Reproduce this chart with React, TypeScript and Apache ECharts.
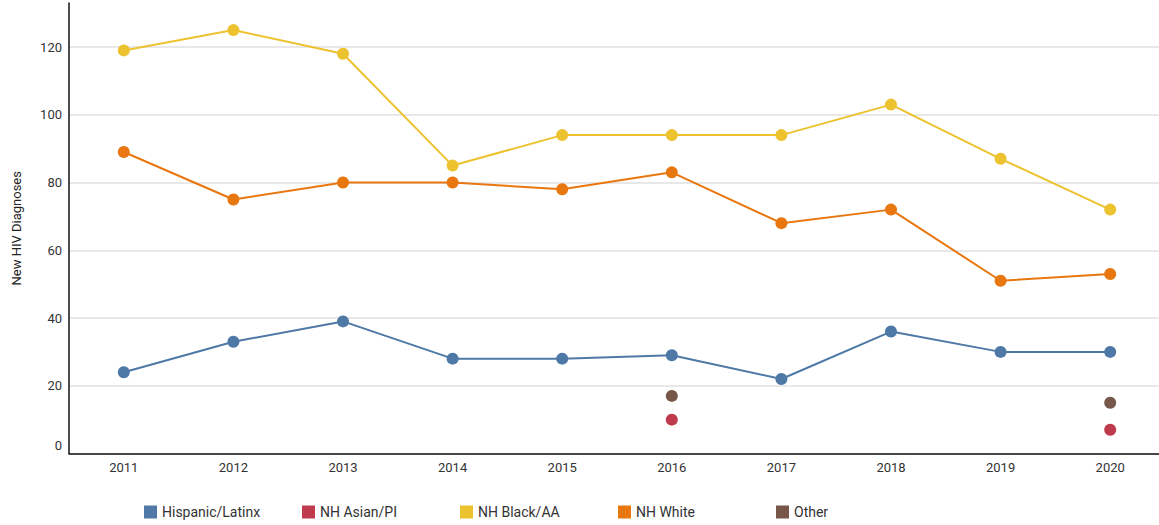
import React, { useEffect, useRef } from "react";
import * as echarts from "echarts";

const years = ["2011", "2012", "2013", "2014", "2015", "2016", "2017", "2018", "2019", "2020"];
const hispanic = [24, 33, 39, 28, 28, 29, 22, 36, 30, 30];
const asianPI = [null, null, null, null, null, 10, null, null, null, 7];
const blackAA = [119, 125, 118, 85, 94, 94, 94, 103, 87, 72];
const white = [89, 75, 80, 80, 78, 83, 68, 72, 51, 53];
const other = [null, null, null, null, null, 17, null, null, null, 15];

const seriesNames = ["Hispanic/Latinx", "NH Asian/PI", "NH Black/AA", "NH White", "Other"];
const seriesColors = ["#4e79a7", "#bf3a4c", "#edc22f", "#e8770f", "#76574a"];
const seriesData = [hispanic, asianPI, blackAA, white, other];

const FONT = "Roboto, 'Noto Sans', sans-serif";

export default function App() {
  const ref = useRef<HTMLDivElement>(null);
  useEffect(() => {
    if (!ref.current) return;
    const chart = echarts.init(ref.current, null, { renderer: "svg" });
    chart.setOption({
      animation: false,
      textStyle: { fontFamily: FONT },
      grid: { left: 69, right: 0, top: 3, bottom: 71.5, containLabel: false },
      legend: seriesNames.map((name, i) => ({
        left: 139 + i * 158,
        top: 500,
        icon: "rect",
        itemWidth: 13,
        itemHeight: 13,
        itemGap: 4,
        textStyle: { fontSize: 14, color: "#333", fontFamily: FONT },
        data: [name],
      })),
      xAxis: {
        type: "category",
        data: years,
        boundaryGap: true,
        axisLine: { lineStyle: { color: "#111", width: 1.5 } },
        axisTick: { show: false },
        axisLabel: { fontSize: 13, color: "#333", margin: 7, fontFamily: FONT },
        splitLine: { show: false },
      },
      yAxis: {
        type: "value",
        min: 0,
        max: 133,
        interval: 20,
        name: "New HIV Diagnoses",
        nameLocation: "middle",
        nameGap: 46,
        nameTextStyle: { fontSize: 13, color: "#222", fontFamily: FONT },
        axisLine: { show: true, lineStyle: { color: "#111", width: 1.5 } },
        axisTick: { show: false },
        axisLabel: {
          fontSize: 13,
          color: "#333",
          margin: 7,
          fontFamily: FONT,
          showMaxLabel: false,
          formatter: (v: number) => (v === 0 ? "{z|0}" : String(v)),
          rich: { z: { fontSize: 13, color: "#333", fontFamily: FONT, padding: [0, 0, 16, 0] } },
        },
        splitLine: { show: true, showMaxLine: false, lineStyle: { color: "#e0e0e0", width: 1.5 } },
      },
      series: seriesNames.map((name, i) => ({
        name,
        type: "line",
        data: seriesData[i],
        color: seriesColors[i],
        symbol: "circle",
        symbolSize: 12,
        showSymbol: true,
        connectNulls: false,
        lineStyle: { width: 2, color: seriesColors[i] },
        itemStyle: { color: seriesColors[i] },
        z: i === 0 ? 3 : 2,
      })),
    });
    return () => chart.dispose();
  }, []);
  return (
    <div style={{ position: "fixed", left: 0, top: 0, width: 1159, height: 525, overflow: "hidden", background: "#fff" }}>
      <div ref={ref} style={{ width: 1165, height: 525 }} />
    </div>
  );
}
